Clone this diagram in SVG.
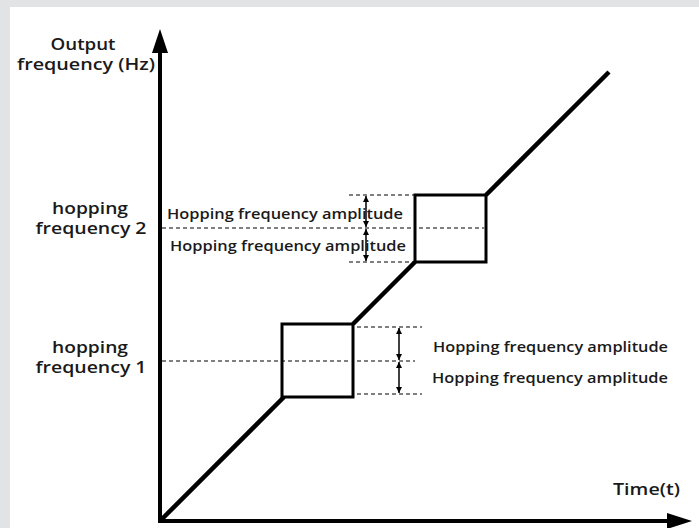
<svg xmlns="http://www.w3.org/2000/svg" width="699" height="528" viewBox="0 0 699 528">
  <defs>
    <style>
      .lbl { font-family: "Open Sans", "Noto Sans", "DejaVu Sans", sans-serif; font-weight: 600; fill: #1a1a1a; }
      .axis { stroke: #000; stroke-width: 4; fill: none; }
      .ramp { stroke: #000; stroke-width: 4.5; fill: none; }
      .box { stroke: #000; stroke-width: 3; fill: none; }
      .dash { stroke: #000; stroke-width: 1; stroke-dasharray: 4 3; fill: none; }
      .dim { stroke: #000; stroke-width: 1.5; fill: none; marker-start: url(#tip); marker-end: url(#tip); }
    </style>
    <marker id="tip" viewBox="0 0 10 10" refX="10" refY="5" markerWidth="6" markerHeight="7" markerUnits="userSpaceOnUse" orient="auto-start-reverse">
      <path d="M0,0 L10,5 L0,10 Z" fill="#000"/>
    </marker>
  </defs>

  <!-- page -->
  <rect x="0" y="0" width="699" height="528" fill="#e2e3e5"/>
  <rect x="10" y="7" width="689" height="521" fill="#ffffff"/>

  <!-- axes -->
  <g id="axes">
    <path class="axis" d="M160,521 V50"/>
    <path d="M160,29 L168,53 L152,53 Z" fill="#000"/>
    <path class="axis" d="M158,521 H670"/>
    <path d="M692,521 L667,513 L667,529 Z" fill="#000"/>
  </g>

  <!-- reference dashed levels and dimension arrows -->
  <g id="connectors">
    <path class="dash" d="M162,228 H414 M419,228 H484"/>
    <path class="dash" d="M349,195 H414 M349,262 H414"/>
    <path class="dash" d="M162,361 H351 M357,361 H415"/>
    <path class="dash" d="M357,327 H422 M357,394 H422"/>
    <path class="dim" d="M366,196 V227"/>
    <path class="dim" d="M366,229 V261"/>
    <path class="dim" d="M399,328 V360"/>
    <path class="dim" d="M399,362 V393"/>
    <!-- output frequency ramp -->
    <path class="ramp" d="M161,520 L284,397"/>
    <path class="ramp" d="M353,324 L415,262"/>
    <path class="ramp" d="M486,195 L609,72"/>
  </g>

  <g id="hop-window-1">
    <rect class="box" x="282" y="324" width="71" height="73"/>
  </g>
  <g id="hop-window-2">
    <rect class="box" x="415" y="195" width="71" height="67"/>
  </g>

  <!-- labels -->
  <g id="y-label">
    <text class="lbl" x="83" y="50" font-size="16" text-anchor="middle" textLength="65" lengthAdjust="spacingAndGlyphs">Output</text>
    <text class="lbl" x="86" y="70" font-size="16" text-anchor="middle" textLength="138" lengthAdjust="spacingAndGlyphs">frequency (Hz)</text>
  </g>
  <g id="hf2-label">
    <text class="lbl" x="90" y="214" font-size="16" text-anchor="middle" textLength="76" lengthAdjust="spacingAndGlyphs">hopping</text>
    <text class="lbl" x="91" y="234" font-size="16" text-anchor="middle" textLength="111" lengthAdjust="spacingAndGlyphs">frequency 2</text>
  </g>
  <g id="hf1-label">
    <text class="lbl" x="90" y="353" font-size="16" text-anchor="middle" textLength="76" lengthAdjust="spacingAndGlyphs">hopping</text>
    <text class="lbl" x="91" y="373" font-size="16" text-anchor="middle" textLength="111" lengthAdjust="spacingAndGlyphs">frequency 1</text>
  </g>
  <g id="amp-labels-2">
    <text class="lbl" x="167" y="219" font-size="15" textLength="236" lengthAdjust="spacingAndGlyphs">Hopping frequency amplitude</text>
    <text class="lbl" x="170" y="251" font-size="15" textLength="236" lengthAdjust="spacingAndGlyphs">Hopping frequency amplitude</text>
  </g>
  <g id="amp-labels-1">
    <text class="lbl" x="433" y="352" font-size="15" textLength="235" lengthAdjust="spacingAndGlyphs">Hopping frequency amplitude</text>
    <text class="lbl" x="432" y="383" font-size="15" textLength="236" lengthAdjust="spacingAndGlyphs">Hopping frequency amplitude</text>
  </g>
  <g id="x-label">
    <text class="lbl" x="613" y="495" font-size="17" textLength="67" lengthAdjust="spacingAndGlyphs">Time(t)</text>
  </g>
</svg>
